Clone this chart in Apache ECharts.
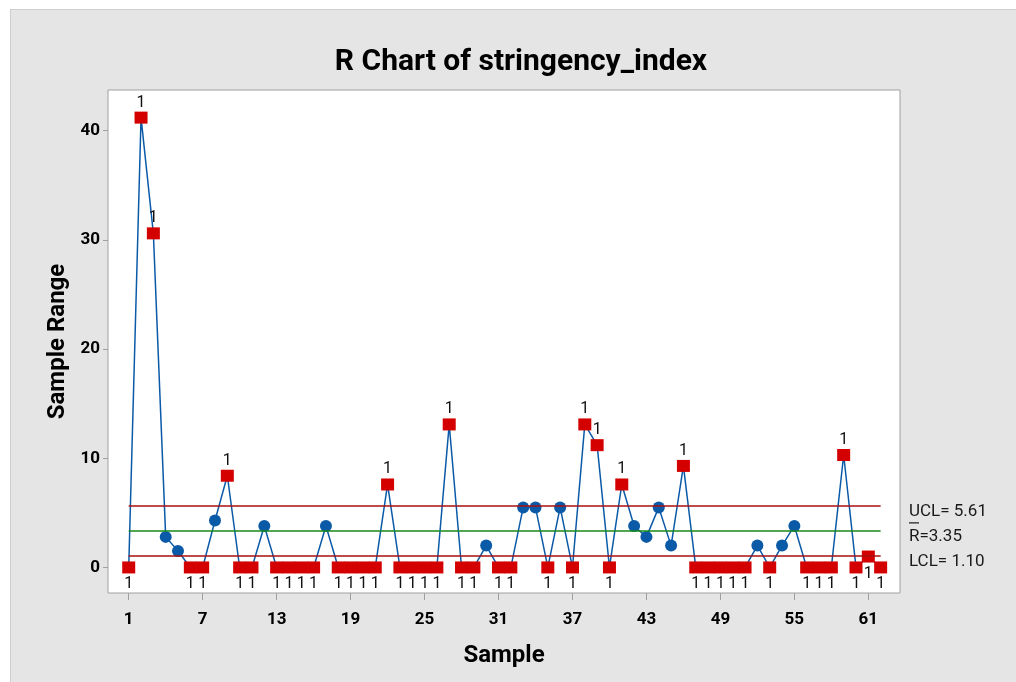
<!DOCTYPE html>
<html>
<head>
<meta charset="utf-8">
<script src="https://cdn.jsdelivr.net/npm/echarts@6/dist/echarts.min.js"></script>
<style>
  html, body { margin: 0; padding: 0; background: #ffffff; }
  #bg { position: absolute; left: 10px; top: 9px; width: 1006px; height: 673px;
        background: #e5e5e5; border-left: 1px solid #cdcdcd; border-top: 1px solid #cdcdcd; box-sizing: border-box; }
  #chart { position: absolute; left: 0; top: 0; width: 1016px; height: 682px; }
</style>
</head>
<body>
<div id="bg"></div>
<div id="chart"></div>
<script>
const titleText = 'R Chart of stringency_index';
const xName = 'Sample';
const yName = 'Sample Range';
// Sample range for each of the 62 samples
const ranges = [
  0, 41.2, 30.6, 2.8, 1.5, 0, 0, 4.3, 8.4, 0,
  0, 3.8, 0, 0, 0, 0, 3.8, 0, 0, 0,
  0, 7.6, 0, 0, 0, 0, 13.1, 0, 0, 2.0,
  0, 0, 5.5, 5.5, 0, 5.5, 0, 13.1, 11.2, 0,
  7.6, 3.8, 2.8, 5.5, 2.0, 9.3, 0, 0, 0, 0,
  0, 2.0, 0, 2.0, 3.8, 0, 0, 0, 10.3, 0,
  1.0, 0
];
const samples = ranges.map((_, i) => i + 1);
const UCL = 5.61, CL = 3.35, LCL = 1.10;
const xTicks = [1, 7, 13, 19, 25, 31, 37, 43, 49, 55, 61];
const yTicks = [0, 10, 20, 30, 40];

const FONT = 'Roboto, "Liberation Sans", sans-serif';
const BLUE = '#0b5aa8', RED = '#d40000';

const points = samples.map((s, i) => {
  const v = ranges[i];
  const high = v > UCL, low = v < LCL;
  const flagged = high || low;
  return {
    value: [s, v],
    symbol: flagged ? 'rect' : 'circle',
    symbolSize: flagged ? [13, 12] : 12,
    itemStyle: { color: flagged ? RED : BLUE },
    label: {
      show: flagged,
      position: high ? 'top' : 'bottom',
      distance: high ? 1 : 3,
      formatter: '1',
      color: '#111',
      fontSize: 16,
      fontFamily: FONT
    }
  };
});

const chart = echarts.init(document.getElementById('chart'), null, { renderer: 'canvas' });
const option = {
  backgroundColor: 'transparent',
  animation: false,
  grid: { left: 108, top: 90, width: 792, height: 503, show: true,
          backgroundColor: '#ffffff', borderColor: '#a0a0a0', borderWidth: 1 },
  xAxis: {
    type: 'value', min: -0.68, max: 63.57,
    name: xName, nameLocation: 'middle', nameGap: 51,
    nameTextStyle: { fontSize: 24, fontWeight: 'bold', color: '#000', fontFamily: FONT },
    axisLine: { show: false, onZero: false },
    splitLine: { show: false },
    axisTick: { show: true, length: 7, customValues: xTicks, lineStyle: { color: '#a0a0a0' } },
    axisLabel: { customValues: xTicks, margin: 18, fontSize: 17, fontWeight: 'bold', color: '#000', fontFamily: FONT }
  },
  yAxis: {
    type: 'value', min: -2.34, max: 43.73,
    name: yName, nameLocation: 'middle', nameGap: 38, nameRotate: 90,
    nameTextStyle: { fontSize: 24, fontWeight: 'bold', color: '#000', fontFamily: FONT },
    axisLine: { show: false, onZero: false },
    splitLine: { show: false },
    axisTick: { show: true, length: 5, customValues: yTicks, lineStyle: { color: '#a0a0a0' } },
    axisLabel: { customValues: yTicks, margin: 8, fontSize: 17, fontWeight: 'bold', color: '#000', fontFamily: FONT }
  },
  series: [
    {
      type: 'line', data: [], z: 1, silent: true,
      markLine: {
        silent: true, symbol: 'none', label: { show: false }, animation: false,
        data: [
          [{ coord: [samples[0], UCL], lineStyle: { color: '#a80f0f', width: 1.5, type: 'solid' } },
           { coord: [samples[samples.length - 1], UCL] }],
          [{ coord: [samples[0], CL], lineStyle: { color: '#168a16', width: 1.5, type: 'solid' } },
           { coord: [samples[samples.length - 1], CL] }],
          [{ coord: [samples[0], LCL], lineStyle: { color: '#a80f0f', width: 1.5, type: 'solid' } },
           { coord: [samples[samples.length - 1], LCL] }]
        ]
      }
    },
    {
      type: 'line', z: 3,
      data: points,
      lineStyle: { color: BLUE, width: 1.5 },
      itemStyle: { color: BLUE },
      showAllSymbol: true
    }
  ]
};
chart.setOption(option);

// Limit labels, placed at the pixel rows of the control limits
const lastS = samples[samples.length - 1];
const pU = chart.convertToPixel({ xAxisIndex: 0, yAxisIndex: 0 }, [lastS, UCL]);
const pC = chart.convertToPixel({ xAxisIndex: 0, yAxisIndex: 0 }, [lastS, CL]);
const pL = chart.convertToPixel({ xAxisIndex: 0, yAxisIndex: 0 }, [lastS, LCL]);
const LX = 909;
const lblStyle = { fontSize: 17, fontFamily: FONT, fill: '#1a1a1a', textVerticalAlign: 'middle', textAlign: 'left' };
chart.setOption({
  graphic: [
    { type: 'text', x: 521, y: 62, style: { text: titleText, fontSize: 30, fontWeight: 'bold', fontFamily: FONT, fill: '#000', textAlign: 'center', textVerticalAlign: 'middle' }, silent: true },
    { type: 'text', x: LX, y: pU[1] + 6, style: Object.assign({ text: 'UCL= 5.61' }, lblStyle), silent: true },
    { type: 'text', x: LX, y: pC[1] + 6, style: Object.assign({ text: 'R=3.35' }, lblStyle), silent: true },
    { type: 'line', shape: { x1: LX, y1: pC[1] - 8, x2: LX + 10, y2: pC[1] - 8 }, style: { stroke: '#1a1a1a', lineWidth: 1.2 }, silent: true },
    { type: 'text', x: LX, y: pL[1] + 6, style: Object.assign({ text: 'LCL= 1.10' }, lblStyle), silent: true }
  ]
});
</script>
</body>
</html>
